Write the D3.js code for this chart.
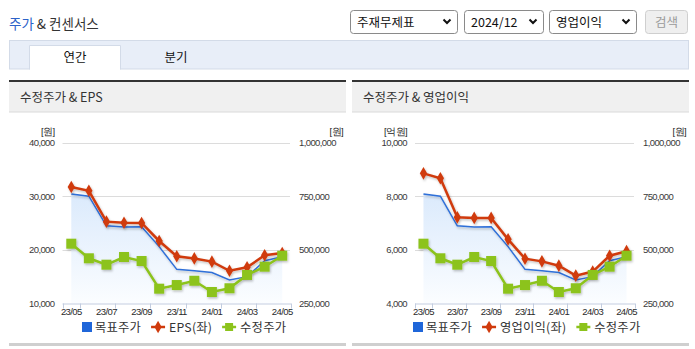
<!DOCTYPE html>
<html>
<head>
<meta charset="utf-8">
<script src="https://cdn.jsdelivr.net/npm/d3@7"></script>
<style>
  html, body { margin: 0; padding: 0; background: #fff; }
  svg { display: block; }
  text { font-family: "Noto Sans CJK KR", "Noto Sans", sans-serif; }
  .num { font-family: "Liberation Sans", Arial, sans-serif; font-size: 9.5px; letter-spacing: -0.6px; fill: #3a3a3a; }
</style>
</head>
<body>
<svg id="chart" width="695" height="349"></svg>
<script>
// Monthly categories and axis labels
const months = ["23/05","23/06","23/07","23/08","23/09","23/10","23/11","23/12","24/01","24/02","24/03","24/04","24/05"];
const tickLabels = ["23/05","23/07","23/09","23/11","24/01","24/03","24/05"];

// Series (원 / 억원)
const targetPrice = [760000, 750000, 612000, 606000, 608000, 515000, 409000, 403000, 394000, 360000, 375000, 449000, 468000];
const adjPrice    = [528600, 460600, 430800, 466600, 448000, 319000, 336000, 356000, 303600, 321000, 383000, 421500, 472700];
const eps         = [31700, 31000, 25250, 25050, 25000, 21650, 18800, 18400, 17800, 16100, 16750, 18980, 19400];
const opProfit    = [8850, 8670, 7210, 7190, 7190, 6390, 5670, 5570, 5410, 5040, 5190, 5780, 5950];

const leftTicksEps = [10000, 20000, 30000, 40000];
const leftTicksOp  = [4000, 6000, 8000, 10000];
const rightTicks   = [250000, 500000, 750000, 1000000];

const C_BLUE = "#2f6fd8", C_RED = "#d03a0c", C_GREEN = "#8cc31c";

const svg = d3.select("#chart");
const fmt = d3.format(",");

// ---- defs: gradient + shadow
const defs = svg.append("defs");
const grad = defs.append("linearGradient").attr("id", "areaGrad")
  .attr("x1", 0).attr("y1", 0).attr("x2", 0).attr("y2", 1);
grad.append("stop").attr("offset", "0%").attr("stop-color", "#dbeafc");
grad.append("stop").attr("offset", "100%").attr("stop-color", "#fbfdff");
const sh = defs.append("filter").attr("id", "shadow")
  .attr("x", "-10%").attr("y", "-10%").attr("width", "130%").attr("height", "140%");
sh.append("feDropShadow").attr("dx", 1).attr("dy", 1.5).attr("stdDeviation", 0.8)
  .attr("flood-color", "#000").attr("flood-opacity", 0.25);

// ---- page header
const title = svg.append("text").attr("x", 9).attr("y", 29).attr("font-size", 13.5);
title.append("tspan").attr("fill", "#2c62c9").text("주가");
title.append("tspan").attr("fill", "#333").text(" & 컨센서스");

function selectBox(x, w, label) {
  const g = svg.append("g");
  g.append("rect").attr("x", x + 0.5).attr("y", 10.5).attr("width", w).attr("height", 23)
    .attr("rx", 3).attr("fill", "#fff").attr("stroke", "#8a8a8a");
  g.append("text").attr("x", x + 7).attr("y", 27).attr("font-size", 12.5).attr("fill", "#111").text(label);
  const cx = x + w - 10;
  g.append("path").attr("d", `M${cx - 3.5},${19.5} L${cx},${23} L${cx + 3.5},${19.5}`)
    .attr("fill", "none").attr("stroke", "#111").attr("stroke-width", 2);
}
selectBox(350, 107, "주재무제표");
selectBox(464, 79, "2024/12");
selectBox(549, 87, "영업이익");
svg.append("rect").attr("x", 645.5).attr("y", 10.5).attr("width", 42).attr("height", 23)
  .attr("rx", 3).attr("fill", "#efefef").attr("stroke", "#cfcfcf");
svg.append("text").attr("x", 666.5).attr("y", 27).attr("text-anchor", "middle")
  .attr("font-size", 12.5).attr("fill", "#9a9a9a").text("검색");

// ---- tab bar
svg.append("rect").attr("x", 9.5).attr("y", 40.5).attr("width", 679).attr("height", 28.5)
  .attr("fill", "#e8eef8").attr("stroke", "#d3dbe8");
svg.append("path").attr("d", "M29.5,69.5 V45.5 H120.5 V69.5").attr("fill", "#fff").attr("stroke", "#d3dbe8");
svg.append("rect").attr("x", 30).attr("y", 46).attr("width", 90).attr("height", 24).attr("fill", "#fff");
svg.append("text").attr("x", 75).attr("y", 62).attr("text-anchor", "middle").attr("font-size", 12.5).attr("fill", "#111").text("연간");
svg.append("text").attr("x", 176).attr("y", 62).attr("text-anchor", "middle").attr("font-size", 12.5).attr("fill", "#111").text("분기");

// ---- one chart panel
function panel(o) {
  const g = svg.append("g");
  const w = o.x1 - o.x0;
  g.append("rect").attr("x", o.x0).attr("y", 80).attr("width", w).attr("height", 2).attr("fill", "#333");
  g.append("rect").attr("x", o.x0).attr("y", 82).attr("width", w).attr("height", 30).attr("fill", "#f0f0f0");
  g.append("rect").attr("x", o.x0).attr("y", 111.5).attr("width", w).attr("height", 1).attr("fill", "#dadada");
  g.append("text").attr("x", o.x0 + 11).attr("y", 102).attr("font-size", 12.5).attr("fill", "#333").text(o.header);
  g.append("rect").attr("x", o.x0).attr("y", 343).attr("width", w).attr("height", 3).attr("fill", "#cfcfcf");

  const top = 142.5, bottom = 303.5;
  const x = d3.scaleBand().domain(months).range([o.px0, o.px1]);
  const cx = d => x(d) + x.bandwidth() / 2;
  const yL = d3.scaleLinear().domain(d3.extent(o.leftTicks)).range([bottom, top]);
  const yR = d3.scaleLinear().domain(d3.extent(rightTicks)).range([bottom, top]);

  // grid
  g.selectAll(".grid").data(o.leftTicks.slice(1)).join("line")
    .attr("x1", o.px0).attr("x2", o.px1 - 1)
    .attr("y1", d => Math.round(yL(d)) + 0.5).attr("y2", d => Math.round(yL(d)) + 0.5)
    .attr("stroke", "#dcdcdc");

  // left axis labels
  g.selectAll(".yl").data(o.leftTicks).join("text").attr("class", "num")
    .attr("x", o.px0 - 8).attr("y", d => yL(d) + 3.5).attr("text-anchor", "end").text(d => fmt(d));
  g.append("text").attr("class", "num").attr("x", o.px0 - 8).attr("y", 135).attr("text-anchor", "end")
    .style("fill", "#222").text(o.leftUnit);
  // right axis labels
  g.selectAll(".yr").data(rightTicks).join("text").attr("class", "num")
    .attr("x", o.px1 + 8).attr("y", d => yR(d) + 3.5).text(d => fmt(d));
  g.append("text").attr("class", "num").attr("x", o.x1 - 3).attr("y", 135).attr("text-anchor", "end")
    .style("fill", "#222").text("[원]");

  // area under target price
  const area = d3.area().x((d, i) => cx(months[i])).y0(bottom).y1(d => yR(d));
  g.append("path").datum(targetPrice).attr("d", area).attr("fill", "url(#areaGrad)");

  // x axis
  const xa = d3.axisBottom(x).tickValues(tickLabels).tickSize(0).tickPadding(5);
  const ax = g.append("g").attr("transform", `translate(0,${bottom})`).call(xa);
  ax.select(".domain").attr("stroke", "#c3cde0").attr("d", `M${o.px0},0.5H${o.px1}`);
  ax.selectAll("text").attr("class", "num").style("fill", "#2a2a2a").attr("font-size", null).attr("font-family", null);
  const bounds = [o.px0].concat(tickLabels.map(t => x(t) + x.bandwidth()));
  ax.selectAll(".btick").data(bounds).join("line")
    .attr("x1", d => Math.round(d) + 0.5).attr("x2", d => Math.round(d) + 0.5)
    .attr("y1", 0).attr("y2", 5).attr("stroke", "#c3cde0");

  const line = (sc) => d3.line().x((d, i) => cx(months[i])).y(d => sc(d));

  // target price line
  g.append("path").datum(targetPrice).attr("d", line(yR)).attr("fill", "none")
    .attr("stroke", C_BLUE).attr("stroke-width", 1.5).attr("filter", "url(#shadow)");

  // left-axis series (red, diamonds)
  const red = g.append("g").attr("filter", "url(#shadow)");
  red.append("path").datum(o.leftSeries).attr("d", line(yL)).attr("fill", "none")
    .attr("stroke", C_RED).attr("stroke-width", 2.5);
  red.selectAll("path.m").data(o.leftSeries).join("path").attr("class", "m")
    .attr("d", d3.symbol(d3.symbolDiamond, 46))
    .attr("transform", (d, i) => `translate(${cx(months[i])},${yL(d)})`).attr("fill", C_RED);

  // adjusted price (green, squares)
  const gr = g.append("g").attr("filter", "url(#shadow)");
  gr.append("path").datum(adjPrice).attr("d", line(yR)).attr("fill", "none")
    .attr("stroke", C_GREEN).attr("stroke-width", 2.5);
  gr.selectAll("rect").data(adjPrice).join("rect")
    .attr("x", (d, i) => cx(months[i]) - 5).attr("y", d => yR(d) - 5)
    .attr("width", 10).attr("height", 10).attr("fill", C_GREEN);

  // legend
  const fs = 12.3;
  const lg = g.append("g").attr("transform", "translate(0,332)");
  let lx = o.legendX;
  lg.append("rect").attr("x", lx).attr("y", -10).attr("width", 10).attr("height", 10).attr("fill", "#1f66d9");
  lx += 13;
  const t1 = lg.append("text").attr("x", lx).attr("y", 0).attr("font-size", fs).attr("letter-spacing", 0.2).attr("fill", "#333").text("목표주가");
  lx += t1.node().getComputedTextLength() + 10;
  lg.append("line").attr("x1", lx).attr("x2", lx + 14).attr("y1", -5).attr("y2", -5)
    .attr("stroke", C_RED).attr("stroke-width", 2.5);
  lg.append("path").attr("d", d3.symbol(d3.symbolDiamond, 44)).attr("transform", `translate(${lx + 7},-5)`).attr("fill", C_RED);
  lx += 18;
  const t2 = lg.append("text").attr("x", lx).attr("y", 0).attr("font-size", fs).attr("letter-spacing", 0.2).attr("fill", "#333").text(o.leftName);
  lx += t2.node().getComputedTextLength() + 10;
  lg.append("line").attr("x1", lx).attr("x2", lx + 14).attr("y1", -5).attr("y2", -5)
    .attr("stroke", C_GREEN).attr("stroke-width", 2.5);
  lg.append("rect").attr("x", lx + 3).attr("y", -9).attr("width", 8).attr("height", 8).attr("fill", C_GREEN);
  lx += 18;
  lg.append("text").attr("x", lx).attr("y", 0).attr("font-size", fs).attr("letter-spacing", 0.2).attr("fill", "#333").text("수정주가");
}

panel({ x0: 9, x1: 346, px0: 62.5, px1: 291, header: "수정주가 & EPS",
  leftTicks: leftTicksEps, leftSeries: eps, leftUnit: "[원]", leftName: "EPS(좌)", legendX: 82 });
panel({ x0: 352, x1: 689, px0: 415, px1: 635, header: "수정주가 & 영업이익",
  leftTicks: leftTicksOp, leftSeries: opProfit, leftUnit: "[억원]", leftName: "영업이익(좌)", legendX: 413 });
</script>
</body>
</html>
